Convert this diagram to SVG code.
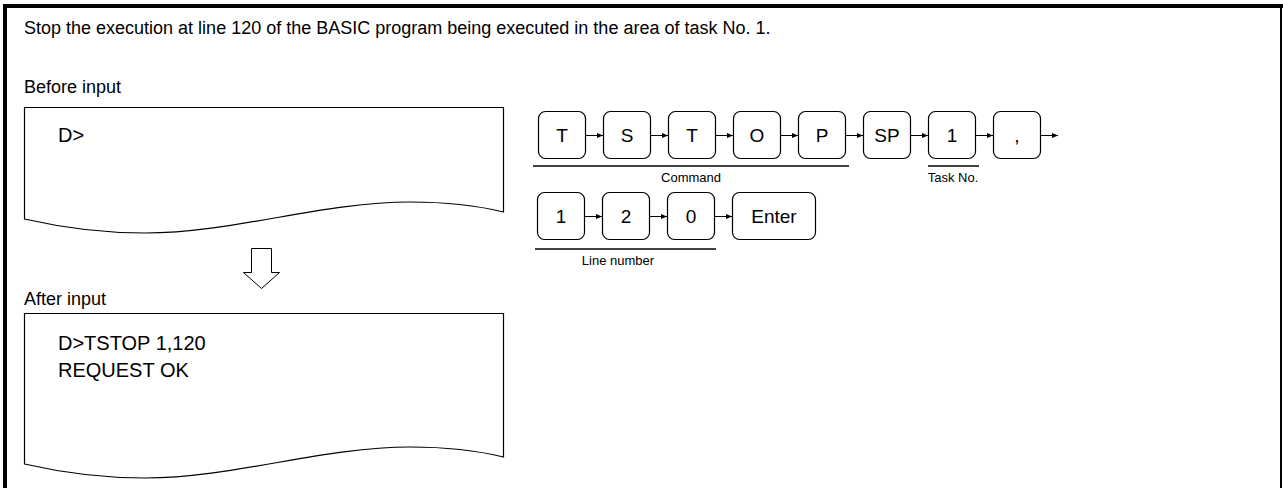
<svg xmlns="http://www.w3.org/2000/svg" width="1283" height="488" viewBox="0 0 1283 488">
<style>
text{font-family:"Liberation Sans",Arial,sans-serif;fill:#000}
.ttl{font-size:18px}
.t{font-size:18px}
.scr{font-size:20px}
.k{font-size:19px;text-anchor:middle}
.lbl{font-size:13px;text-anchor:middle}
.key{fill:#fff;stroke:#000;stroke-width:1.2}
.box{fill:#fff;stroke:#000;stroke-width:1.2}
.ul{stroke:#000;stroke-width:1.5}
.con{stroke:#000;stroke-width:1;fill:none}
</style>
<defs>
<marker id="ah" markerWidth="6" markerHeight="6" refX="6" refY="3" orient="auto" markerUnits="userSpaceOnUse">
<path d="M0,0.5 L6,3 L0,5.5 Z" fill="#000"/>
</marker>
</defs>
<rect width="1283" height="488" fill="#fff"/>
<g id="frame">
<line x1="3" y1="6" x2="1283" y2="6" stroke="#000" stroke-width="4"/>
<line x1="5" y1="4" x2="5" y2="488" stroke="#000" stroke-width="4"/>
<line x1="1281" y1="4" x2="1281" y2="488" stroke="#000" stroke-width="2"/>
</g>
<text class="ttl" x="24" y="34">Stop the execution at line 120 of the BASIC program being executed in the area of task No. 1.</text>
<text class="t" x="24" y="93">Before input</text>
<g id="screen-before">
<path class="box" d="M24.5,107.5 H503.5 V212 C 475,205 440,202 410,202 C 322,202 233,233 145,233 C 95,233 55,226 24.5,219 Z"/>
<text class="scr" x="58" y="142">D&gt;</text>
</g>
<g id="down-arrow">
<path d="M251.5,248.5 H271.5 V272.5 H279.5 L261.5,288.5 L243.5,272.5 H251.5 Z" fill="#fff" stroke="#000" stroke-width="1"/>
</g>
<text class="t" x="24" y="305">After input</text>
<g id="screen-after">
<path class="box" d="M24.5,313.5 H503.5 V457 C 475,450 440,447 410,447 C 322,447 233,478 145,478 C 95,478 55,471 24.5,464 Z"/>
<text class="scr" x="58" y="350">D&gt;TSTOP 1,120</text>
<text class="scr" x="58" y="377">REQUEST OK</text>
</g>
<g id="key-T1"><rect class="key" x="538.5" y="111.5" width="47" height="47" rx="7"/><text class="k" x="562" y="142">T</text></g>
<g id="key-S"><rect class="key" x="603.5" y="111.5" width="47" height="47" rx="7"/><text class="k" x="627" y="142">S</text></g>
<g id="key-T2"><rect class="key" x="668.5" y="111.5" width="47" height="47" rx="7"/><text class="k" x="692" y="142">T</text></g>
<g id="key-O"><rect class="key" x="733.5" y="111.5" width="47" height="47" rx="7"/><text class="k" x="757" y="142">O</text></g>
<g id="key-P"><rect class="key" x="798.5" y="111.5" width="47" height="47" rx="7"/><text class="k" x="822" y="142">P</text></g>
<g id="key-SP"><rect class="key" x="863.5" y="111.5" width="47" height="47" rx="7"/><text class="k" x="887" y="142">SP</text></g>
<g id="key-1a"><rect class="key" x="928.5" y="111.5" width="47" height="47" rx="7"/><text class="k" x="952" y="142">1</text></g>
<g id="key-comma"><rect class="key" x="993.5" y="111.5" width="47" height="47" rx="7"/><text class="k" x="1017" y="142">,</text></g>
<g id="key-1b"><rect class="key" x="537.5" y="192.5" width="47" height="47" rx="7"/><text class="k" x="561" y="223">1</text></g>
<g id="key-2"><rect class="key" x="602.5" y="192.5" width="47" height="47" rx="7"/><text class="k" x="626" y="223">2</text></g>
<g id="key-0"><rect class="key" x="667.5" y="192.5" width="47" height="47" rx="7"/><text class="k" x="691" y="223">0</text></g>
<g id="key-Enter"><rect class="key" x="732.5" y="192.5" width="83" height="47" rx="7"/><text class="k" x="774" y="223">Enter</text></g>
<g id="connectors">
<line class="con" x1="586" y1="135.5" x2="603" y2="135.5" marker-end="url(#ah)"/>
<line class="con" x1="651" y1="135.5" x2="668" y2="135.5" marker-end="url(#ah)"/>
<line class="con" x1="716" y1="135.5" x2="733" y2="135.5" marker-end="url(#ah)"/>
<line class="con" x1="781" y1="135.5" x2="798" y2="135.5" marker-end="url(#ah)"/>
<line class="con" x1="846" y1="135.5" x2="863" y2="135.5" marker-end="url(#ah)"/>
<line class="con" x1="911" y1="135.5" x2="928" y2="135.5" marker-end="url(#ah)"/>
<line class="con" x1="976" y1="135.5" x2="993" y2="135.5" marker-end="url(#ah)"/>
<line class="con" x1="1041" y1="135.5" x2="1058" y2="135.5" marker-end="url(#ah)"/>
<line class="con" x1="585" y1="216.5" x2="602" y2="216.5" marker-end="url(#ah)"/>
<line class="con" x1="650" y1="216.5" x2="667" y2="216.5" marker-end="url(#ah)"/>
<line class="con" x1="715" y1="216.5" x2="732" y2="216.5" marker-end="url(#ah)"/>
</g>
<g id="labels">
<line class="ul" x1="533" y1="166" x2="849" y2="166"/>
<text class="lbl" x="691" y="182">Command</text>
<line class="ul" x1="928" y1="166" x2="979" y2="166"/>
<text class="lbl" x="953" y="182">Task No.</text>
<line class="ul" x1="535" y1="249" x2="716" y2="249"/>
<text class="lbl" x="618" y="265">Line number</text>
</g>
</svg>
